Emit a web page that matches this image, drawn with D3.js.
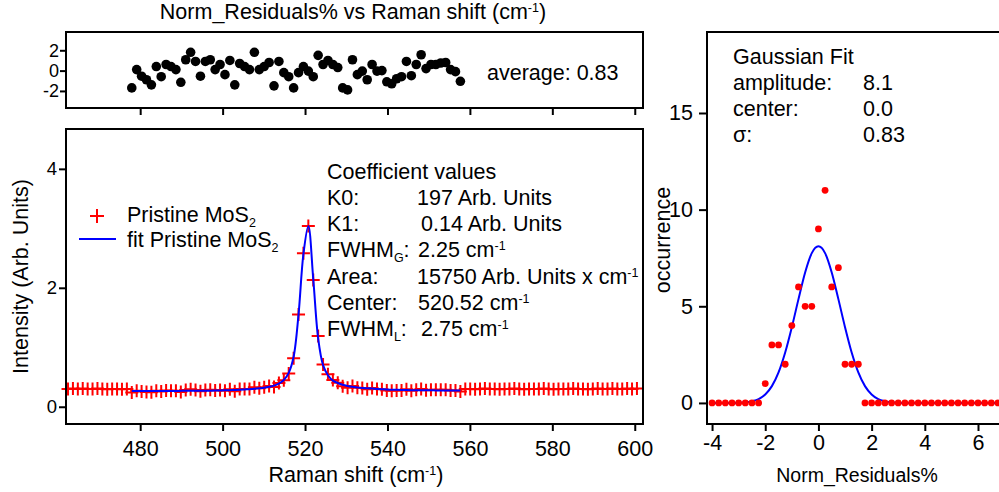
<!DOCTYPE html>
<html>
<head>
<meta charset="utf-8">
<script src="https://cdn.jsdelivr.net/npm/d3@7"></script>
<style>
  body { margin: 0; background: #fff; }
  svg { display: block; font-family: "Liberation Sans", Arial, sans-serif; }
</style>
</head>
<body>
<div id="chart"></div>
<script>
// spectrum: one point every ~1.19 cm-1 starting at 462.5 cm-1
const shiftStart = 462.49;
const shiftStep = 1.19;
const intensity = [
  0.300, 0.305, 0.300, 0.305, 0.300, 0.300, 0.305, 0.300, 0.295, 0.300, 0.300, 0.295, 0.300,
  0.240, 0.267, 0.257, 0.250, 0.244, 0.271, 0.256, 0.274, 0.271, 0.267,
  0.250, 0.283, 0.295, 0.281, 0.261, 0.283, 0.287, 0.274, 0.283, 0.270,
  0.294, 0.262, 0.298, 0.297, 0.298, 0.329, 0.312, 0.326, 0.347, 0.333,
  0.40, 0.447, 0.56, 0.815, 1.55, 2.58, 3.04, 2.13, 1.19, 0.71,
  0.545, 0.45, 0.405, 0.345, 0.32, 0.35, 0.319, 0.314, 0.296, 0.314,
  0.299, 0.295, 0.274, 0.267, 0.272, 0.273, 0.294, 0.271, 0.286, 0.300,
  0.278, 0.285, 0.284, 0.286, 0.286, 0.275, 0.272, 0.258,
  0.300, 0.300, 0.295, 0.300, 0.305, 0.300, 0.300, 0.295, 0.300, 0.300,
  0.305, 0.300, 0.295, 0.300, 0.300, 0.300, 0.305, 0.300, 0.295, 0.300,
  0.300, 0.300, 0.305, 0.300, 0.300, 0.295, 0.300, 0.305, 0.300, 0.300,
  0.305, 0.300, 0.300, 0.305, 0.300, 0.305
];

// fit covers the points from index 13 to 80
const fitFirst = 13;
const fitIntensity = [
  0.265, 0.265, 0.265, 0.265, 0.265, 0.265, 0.265, 0.265, 0.265, 0.266,
  0.267, 0.267, 0.268, 0.268, 0.269, 0.270, 0.271, 0.272, 0.274, 0.276,
  0.279, 0.283, 0.287, 0.291, 0.296, 0.302, 0.310, 0.320, 0.335, 0.355,
  0.39, 0.45, 0.57, 0.84, 1.55, 2.57, 3.04, 2.15, 1.15, 0.70,
  0.53, 0.44, 0.40, 0.37, 0.35, 0.335, 0.325, 0.315, 0.310, 0.305,
  0.300, 0.295, 0.290, 0.287, 0.284, 0.282, 0.280, 0.279, 0.278, 0.277,
  0.276, 0.276, 0.275, 0.275, 0.275, 0.274, 0.274, 0.274
];
const normResiduals = [
  -1.7, 0.1, -0.55, -0.9, -1.4, 0.4, -0.6, 0.6, 0.4, 0.1,
  -1.15, 1.07, 1.8, 0.9, -0.55, 0.9, 1.07, 0.1, 0.6, -0.4,
  1.0, -1.4, 0.7, 0.4, 0.1, 1.8, 0.1, 0.4, 0.8, -1.5,
  0.9, -0.2, -0.6, -1.7, -0.2, 0.4, -0.05, -0.6, 1.5, 0.6,
  1.0, 0.6, 0.3, -1.7, -1.9, 1.07, -0.4, -0.05, -0.9, 0.6,
  -0.05, 0.0, -1.1, -1.3, -0.8, -0.6, 0.9, -0.5, 0.6, 1.56,
  0.2, 0.6, 0.6, 0.75, 0.8, 0.1, -0.1, -1.05
];

// histogram of the residuals, bins of 0.25 from -4
const histStart = -4;
const histStep = 0.25;
const histCounts = [
  0, 0, 0, 0, 0, 0, 0, 0, 1, 3, 3, 2, 4, 6, 5, 5, 9, 11, 6, 7, 2, 2, 2,
  0, 0, 0, 0, 0, 0, 0, 0, 0, 0, 0, 0, 0, 0, 0, 0, 0, 0, 0, 0, 0
];
const gaussFit = [
  0, 0, 0, 0, 0.01, 0.03, 0.09, 0.2, 0.44, 0.87, 1.58, 2.61, 3.92, 5.37, 6.75, 7.75,
  8.1, 7.75, 6.75, 5.37, 3.92, 2.61, 1.58, 0.87, 0.44, 0.2, 0.09, 0.03, 0.01,
  0, 0, 0, 0, 0, 0, 0, 0, 0, 0, 0, 0, 0, 0, 0, 0, 0
];

const shiftTicks = [480, 500, 520, 540, 560, 580, 600];
const intensityTicks = [0, 2, 4];
const residTicks = [-2, 0, 2];
const histXTicks = [-4, -2, 0, 2, 4, 6];
const histYTicks = [0, 5, 10, 15];

const coefficients = [
  { label: [["K0:"]], value: [["197 Arb. Units"]], dx: 0 },
  { label: [["K1:"]], value: [["0.14 Arb. Units"]], dx: 4 },
  { label: [["FWHM"], ["G", "sub"], [":"]], value: [["2.25 cm"], ["-1", "sup"]], dx: 1 },
  { label: [["Area:"]], value: [["15750 Arb. Units x cm"], ["-1", "sup"]], dx: 0 },
  { label: [["Center:"]], value: [["520.52 cm"], ["-1", "sup"]], dx: 1 },
  { label: [["FWHM"], ["L", "sub"], [":"]], value: [["2.75 cm"], ["-1", "sup"]], dx: 4 },
];
const gaussInfo = [
  ["amplitude:", "8.1"],
  ["center:", "0.0"],
  ["σ:", "0.83"],
];

const width = 999;
const height = 492;
const red = "#ff0000";
const blue = "#0000ff";
const fs = 21.5;

const svg = d3.select("#chart").append("svg")
  .attr("width", width)
  .attr("height", height);

const main = { left: 66, right: 643, top: 129, bottom: 424 };
const resid = { left: 66, right: 643, top: 32, bottom: 108 };
const hist = { left: 707, right: 1003, top: 32, bottom: 424 };

const x = d3.scaleLinear([462, 602], [main.left, main.right]);
const y = d3.scaleLinear([-0.29, 4.67], [main.bottom, main.top]);
const yRes = d3.scaleLinear([-3.68, 3.8], [resid.bottom, resid.top]);
const xHist = d3.scaleLinear([-4.19, 6.94], [hist.left, hist.right]);
const yHist = d3.scaleLinear([-1.09, 19.19], [hist.bottom, hist.top]);

const spectrum = intensity.map((v, i) => ({ x: shiftStart + i * shiftStep, y: v }));
const fit = fitIntensity.map((v, i) => ({ x: spectrum[fitFirst + i].x, y: v }));
const residuals = normResiduals.map((v, i) => ({ x: spectrum[fitFirst + i].x, y: v }));
const histPoints = histCounts.map((v, i) => ({ x: histStart + i * histStep, y: v }));
const gaussPoints = gaussFit.map((v, i) => ({ x: histStart + i * histStep, y: v }));

// plain hyphen for negatives, like the original
const plain = (d) => String(d);

// writes text with sub/superscript pieces into a <text>
function rich(text, parts, size) {
  let shift = 0;
  parts.forEach(([str, kind]) => {
    const target = kind === "sup" ? -7 : kind === "sub" ? 5 : 0;
    text.append("tspan")
      .attr("dy", target - shift)
      .attr("font-size", kind ? 12.5 : size)
      .text(str);
    shift = target;
  });
}

function frame(box) {
  svg.append("rect")
    .attr("x", box.left)
    .attr("y", box.top)
    .attr("width", box.right - box.left)
    .attr("height", box.bottom - box.top)
    .attr("fill", "none")
    .attr("stroke", "#000")
    .attr("stroke-width", 2);
}

function styleAxis(g, size) {
  g.select(".domain").remove();
  g.selectAll(".tick line").attr("stroke-width", 2);
  g.selectAll(".tick text").attr("font-size", size).attr("fill", "#000");
}

const plus = "M-6.5,0H6.5M0,-6.5V6.5";

// ---- residual panel ----
svg.append("text")
  .attr("x", 353)
  .attr("y", 19)
  .attr("text-anchor", "middle")
  .call(rich, [["Norm_Residuals% vs Raman shift (cm"], ["-1", "sup"], [")"]], fs);

svg.append("g")
  .attr("transform", `translate(0,${resid.bottom})`)
  .call(d3.axisBottom(x).tickValues(shiftTicks).tickSize(7).tickFormat(""))
  .call(styleAxis, fs);

svg.append("g")
  .attr("transform", `translate(${resid.left},0)`)
  .call(d3.axisLeft(yRes).tickValues(residTicks).tickSize(6).tickPadding(1).tickFormat(plain))
  .call(styleAxis, 18);

svg.append("g")
  .selectAll("circle")
  .data(residuals)
  .join("circle")
  .attr("cx", (d) => x(d.x))
  .attr("cy", (d) => yRes(d.y))
  .attr("r", 4.8)
  .attr("fill", "#000");

frame(resid);

svg.append("text")
  .attr("x", 487)
  .attr("y", 80)
  .attr("font-size", fs)
  .text("average: 0.83");

// ---- spectrum panel ----
svg.append("g")
  .attr("transform", `translate(0,${main.bottom})`)
  .call(d3.axisBottom(x).tickValues(shiftTicks).tickSize(7).tickPadding(10).tickFormat(plain))
  .call(styleAxis, fs);

svg.append("g")
  .attr("transform", `translate(${main.left},0)`)
  .call(d3.axisLeft(y).tickValues(intensityTicks).tickSize(7).tickPadding(2).tickFormat(plain))
  .call(styleAxis, 18.5);

svg.append("g")
  .selectAll("path")
  .data(spectrum)
  .join("path")
  .attr("transform", (d) => `translate(${x(d.x)},${y(d.y)})`)
  .attr("d", plus)
  .attr("stroke", red)
  .attr("stroke-width", 2);

svg.append("path")
  .datum(fit)
  .attr("fill", "none")
  .attr("stroke", blue)
  .attr("stroke-width", 2)
  .attr("d", d3.line().x((d) => x(d.x)).y((d) => y(d.y)).curve(d3.curveCatmullRom));

frame(main);

svg.append("text")
  .attr("x", 356)
  .attr("y", 482)
  .attr("text-anchor", "middle")
  .call(rich, [["Raman shift (cm"], ["-1", "sup"], [")"]], fs);

svg.append("text")
  .attr("transform", `translate(28,${(main.top + main.bottom) / 2}) rotate(-90)`)
  .attr("text-anchor", "middle")
  .attr("font-size", fs)
  .text("Intensity (Arb. Units)");

// legend
const legend = svg.append("g");
legend.append("path")
  .attr("transform", "translate(97,216)")
  .attr("d", "M-7,0H7M0,-7V7")
  .attr("stroke", red)
  .attr("stroke-width", 2);
legend.append("line")
  .attr("x1", 79).attr("x2", 116)
  .attr("y1", 239).attr("y2", 239)
  .attr("stroke", blue)
  .attr("stroke-width", 2);
legend.append("text")
  .attr("x", 127).attr("y", 222)
  .call(rich, [["Pristine MoS"], ["2", "sub"]], fs);
legend.append("text")
  .attr("x", 127).attr("y", 247)
  .call(rich, [["fit Pristine MoS"], ["2", "sub"]], fs);

// coefficient box
const coef = svg.append("g");
coef.append("text")
  .attr("x", 327).attr("y", 179)
  .attr("font-size", fs)
  .text("Coefficient values");
coefficients.forEach((c, i) => {
  const base = 205 + i * 26.2;
  coef.append("text").attr("x", 327).attr("y", base).call(rich, c.label, fs);
  coef.append("text").attr("x", 417 + c.dx).attr("y", base).call(rich, c.value, fs);
});

// ---- histogram panel ----
svg.append("g")
  .attr("transform", `translate(0,${hist.bottom})`)
  .call(d3.axisBottom(xHist).tickValues(histXTicks).tickSize(7).tickPadding(4).tickFormat(plain))
  .call(styleAxis, fs);

svg.append("g")
  .attr("transform", `translate(${hist.left},0)`)
  .call(d3.axisLeft(yHist).tickValues(histYTicks).tickSize(8).tickPadding(6).tickFormat(plain))
  .call(styleAxis, fs);

svg.append("path")
  .datum(gaussPoints)
  .attr("fill", "none")
  .attr("stroke", blue)
  .attr("stroke-width", 2)
  .attr("d", d3.line().x((d) => xHist(d.x)).y((d) => yHist(d.y)).curve(d3.curveMonotoneX));

svg.append("g")
  .selectAll("circle")
  .data(histPoints)
  .join("circle")
  .attr("cx", (d) => xHist(d.x))
  .attr("cy", (d) => yHist(d.y))
  .attr("r", 3.4)
  .attr("fill", red);

frame(hist);

svg.append("text")
  .attr("x", 857)
  .attr("y", 482)
  .attr("text-anchor", "middle")
  .attr("font-size", 19.5)
  .text("Norm_Residuals%");

svg.append("text")
  .attr("transform", "translate(670,240) rotate(-90)")
  .attr("text-anchor", "middle")
  .attr("font-size", fs)
  .text("occurrence");

const gauss = svg.append("g").attr("font-size", fs);
gauss.append("text").attr("x", 733).attr("y", 64).text("Gaussian Fit");
gaussInfo.forEach(([k, v], i) => {
  const base = 90 + i * 26;
  gauss.append("text").attr("x", 733).attr("y", base).text(k);
  gauss.append("text").attr("x", 863).attr("y", base).text(v);
});
</script>
</body>
</html>
